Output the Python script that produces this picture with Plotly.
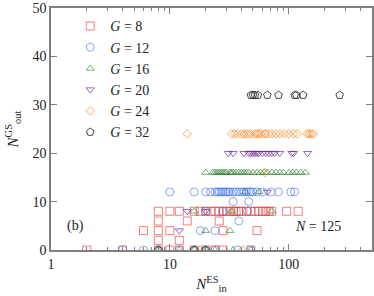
import plotly.graph_objects as go

# ---- data (N_in^ES, N_out^GS) per G ----
g8_x = [2, 4, 8, 10, 12, 16, 20, 24, 28, 48,
        8, 12,
        6, 8, 10, 28, 54,
        8, 14, 26,
        8, 10, 12, 16, 18, 20, 22, 24, 26, 28, 30, 32, 34, 36, 38, 40, 44, 48, 52, 56, 60, 64, 68, 72, 96, 120]
g8_y = [0]*10 + [2]*2 + [4]*5 + [6]*3 + [8]*26

g12_x = [4, 6, 8, 12, 16, 20, 24, 37, 48,
         18, 24,
         38,
         20, 28, 45,
         34, 46,
         10, 16, 20, 22, 24, 25, 26, 27, 28, 29, 30, 31, 32, 34, 36, 38, 40, 42, 44, 46, 48, 50, 54, 60, 71, 82, 104, 112]
g12_y = [0]*9 + [4]*2 + [6] + [8]*3 + [10]*2 + [12]*28

g16_x = [8, 12, 16, 20, 24, 34, 48,
         20, 32,
         16, 33, 72,
         43, 56,
         20, 23, 24, 25, 26, 27, 28, 29, 30, 32, 33, 34, 36, 38, 40, 42, 44, 46, 50, 54, 58, 62, 66, 72, 78, 84, 90, 100, 108, 116, 126, 138]
g16_y = [0]*7 + [4]*2 + [8]*3 + [12]*2 + [16]*32

g20_x = [12, 14, 20, 66,
         31, 34, 42, 46, 48, 50, 52, 54, 56, 60, 64, 68, 72, 76, 84, 106, 110, 144]
g20_y = [4, 8, 8, 12] + [20]*18

g24_x = [18, 41, 63,
         14, 33, 35, 37, 40, 42, 44, 46, 48, 52, 54, 56, 58, 62, 64, 68, 72, 78, 84, 92, 100, 110, 118, 142, 148, 154, 160]
g24_y = [0, 0, 16] + [24]*27

g32_x = [8, 16, 20,
         48, 50, 52, 55, 66, 82, 112, 116, 132, 268]
g32_y = [0]*3 + [32]*10

series = [
    ("<i>G</i> = 8", g8_x, g8_y, "square", "rgba(235,40,40,0.6)", 8),
    ("<i>G</i> = 12", g12_x, g12_y, "circle", "rgba(70,120,235,0.65)", 8),
    ("<i>G</i> = 16", g16_x, g16_y, "triangle-up", "rgba(50,130,50,0.65)", 7),
    ("<i>G</i> = 20", g20_x, g20_y, "triangle-down", "rgba(110,40,150,0.7)", 7),
    ("<i>G</i> = 24", g24_x, g24_y, "diamond", "rgba(255,130,30,0.7)", 6.5),
    ("<i>G</i> = 32", g32_x, g32_y, "pentagon", "rgba(40,40,40,0.85)", 8),
]

x_major = [1, 10, 100]
x_minor = [2, 3, 4, 5, 6, 7, 8, 9, 20, 30, 40, 50, 60, 70, 80, 90, 200, 300, 400]

FONT = "Liberation Serif"
AX = "#7f7f7f"

fig = go.Figure()
for name, xs, ys, sym, col, sz in series:
    fig.add_trace(go.Scatter(
        x=xs, y=ys, mode="markers", name=name,
        marker=dict(symbol=sym + "-open", size=sz, color=col, line=dict(width=1, color=col)),
    ))

fig.update_layout(
    width=374, height=296,
    margin=dict(l=51, r=2, t=8, b=46, autoexpand=False),
    paper_bgcolor="white", plot_bgcolor="white",
    font=dict(family=FONT, size=14, color="#222"),
    showlegend=True,
    legend=dict(x=0.06, y=0.99, xanchor="left", yanchor="top",
                bgcolor="rgba(0,0,0,0)", font=dict(size=14, family=FONT),
                itemwidth=30, tracegroupgap=0),
    annotations=[
        dict(text="(b)", xref="paper", yref="paper", x=0.076, y=0.098,
             xanchor="center", yanchor="middle",
             showarrow=False, font=dict(size=14, family=FONT)),
        dict(text="<i>N</i> = 125", xref="paper", yref="paper", x=0.832, y=0.098,
             xanchor="center", yanchor="middle",
             showarrow=False, font=dict(size=14, family=FONT)),
    ],
)
fig.update_xaxes(
    type="log", range=[0, 2.7], automargin=False,
    tickvals=x_major, ticktext=[str(v) for v in x_major],
    ticks="inside", ticklen=6, tickcolor=AX, tickwidth=1,
    minor=dict(tickvals=x_minor, ticks="inside", ticklen=3, tickcolor=AX, showgrid=False),
    showline=True, linecolor=AX, linewidth=1.5, mirror="ticks",
    showgrid=False, zeroline=False,
    title=dict(text="<i>N</i><sup>ES</sup><sub>in</sub>", standoff=8, font=dict(size=15)),
)
fig.update_yaxes(
    range=[0, 50], dtick=10, automargin=False,
    ticks="inside", ticklen=6, tickcolor=AX, tickwidth=1,
    showline=True, linecolor=AX, linewidth=1.5, mirror="ticks",
    showgrid=False, zeroline=False,
    title=dict(text="<i>N</i><sup>GS</sup><sub>out</sub>", standoff=10, font=dict(size=15)),
)

fig.write_html("out.html", config={"displayModeBar": False},
               post_script="document.body.style.margin='0';")
